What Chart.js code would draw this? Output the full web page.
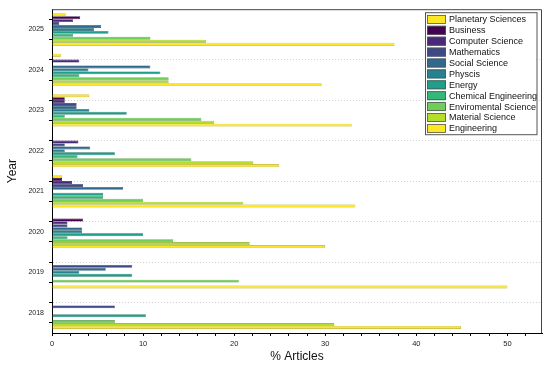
<!DOCTYPE html>
<html><head><meta charset="utf-8">
<script src="https://cdn.jsdelivr.net/npm/chart.js@4.4.0/dist/chart.umd.min.js"></script>
<style>html,body{margin:0;padding:0;background:#fff}#wrap{width:550px;height:369px;position:relative}</style>
</head><body><div id="wrap"><canvas id="c"></canvas></div>
<script>
// ---- data ----
const years = [2025, 2024, 2023, 2022, 2021, 2020, 2019, 2018];
const seriesNames = ["Planetary Sciences","Business","Computer Science","Mathematics","Social Science","Physcis","Energy","Chemical Engineering","Enviromental Science","Material Science","Engineering"];
const planetary   = [1.5, 1.0, 4.1, 0,    1.1, 0,    0,    0];
const business    = [3.1, 0,   1.4, 0,    1.1, 3.4,  0,    0];
const compSci     = [2.3, 3.0, 1.4, 2.9,  2.2, 1.7,  0,    0];
const mathematics = [0.8, 0,   2.7, 1.4,  3.4, 1.7,  8.8,  6.9];
const socialSci   = [5.4, 10.8,2.7, 4.2,  7.8, 3.3,  5.9,  0];
const physcis     = [4.6, 4.0, 4.1, 1.4,  0,   3.3,  3.0,  0];
const energy      = [6.2, 11.9,8.2, 6.9,  5.6, 10.0, 8.8,  10.3];
const chemEng     = [2.3, 3.0, 1.4, 2.8,  5.6, 1.7,  0,    0];
const envSci      = [10.8,12.8,16.4,15.3, 10.0,13.3, 20.5, 6.9];
const materialSci = [16.9,12.8,17.8,22.1, 21.0,21.7, 0,    31.0];
const engineering = [37.6,29.6,32.9,24.9, 33.3,30.0, 50.0, 44.9];
const xTickValues = [0, 10, 20, 30, 40, 50];

// ---- styles ----
const fills   = ["#fde725","#440154","#482878","#3e4989","#31688e","#26828e","#1f9e89","#35b779","#6ece58","#b5de2b","#fde725"];
function darker(hex, f){const n=parseInt(hex.slice(1),16);const r=Math.round(((n>>16)&255)*f),g=Math.round(((n>>8)&255)*f),b=Math.round((n&255)*f);return `rgb(${r},${g},${b})`;}
const allSeries = [planetary,business,compSci,mathematics,socialSci,physcis,energy,chemEng,envSci,materialSci,engineering];
const FONT = '"Liberation Sans", Arial, sans-serif';

// year-axis ticks every 0.5 (minor ticks at group boundaries): the bar ruler
// sees half a year, so 1.6 * half-year = 0.8 of a year per group
const datasets = allSeries.map((vals,i)=>({
  label: seriesNames[i],
  data: vals,
  backgroundColor: fills[i],
  borderColor: darker(fills[i], 0.7),
  borderWidth: 0.6,
  borderSkipped: false,
  barPercentage: 1.0,
  categoryPercentage: 1.6
}));

const decor = {
  id: 'decor',
  afterDraw(chart){
    const {ctx, chartArea:a} = chart;
    ctx.save();
    ctx.strokeStyle = '#444'; ctx.lineWidth = 1;
    ctx.beginPath();
    ctx.moveTo(a.left, a.top + 0.5); ctx.lineTo(a.right - 0.5, a.top + 0.5); ctx.lineTo(a.right - 0.5, a.bottom);
    ctx.stroke();
    const L = a.right - 117, T = a.top + 3, W = 111.5, H = 122, row = 10.9;
    ctx.fillStyle = '#fff'; ctx.fillRect(L, T, W, H);
    ctx.strokeStyle = '#555'; ctx.lineWidth = 1; ctx.strokeRect(L + 0.5, T + 0.5, W, H);
    ctx.font = '9px ' + FONT; ctx.textBaseline = 'middle'; ctx.textAlign = 'left';
    chart.data.datasets.forEach((ds, i) => {
      const cy = T + 7.2 + i * row;
      ctx.fillStyle = ds.backgroundColor; ctx.fillRect(L + 2, cy - 4.5, 19, 9);
      ctx.strokeStyle = '#555'; ctx.lineWidth = 0.8; ctx.strokeRect(L + 2.5, cy - 4, 18, 8);
      ctx.fillStyle = '#111'; ctx.fillText(ds.label, L + 24, cy + 0.5);
    });
    ctx.restore();
  }
};

new Chart(document.getElementById('c'), {
  type: 'bar',
  data: { labels: years, datasets },
  options: {
    indexAxis: 'y',
    responsive: true, maintainAspectRatio: false, animation: false,
    layout: { padding: { top: 6, right: 8, left: 0, bottom: 0 } },
    plugins: { legend: { display: false }, tooltip: { enabled: false } },
    scales: {
      x: {
        type: 'linear', position: 'bottom', min: 0, max: 53.8,
        afterBuildTicks: s => { const t = []; for (let v = 0; v <= s.max; v += 2) t.push({ value: v }); s.ticks = t; },
        afterFit: s => { s.height = 36; },
        ticks: { autoSkip: false, maxRotation: 0, padding: 3, color: '#222', font: { family: FONT, size: 7.5 },
                 callback: v => xTickValues.includes(v) ? String(v) : '' },
        grid: { display: true, drawOnChartArea: false, drawTicks: true, tickLength: 3, tickColor: '#000' },
        border: { display: true, color: '#000', width: 1 },
        title: { display: true, text: '% Articles', color: '#111', font: { family: FONT, size: 12 }, padding: { top: 0, bottom: 5 } }
      },
      y: {
        type: 'linear', position: 'left', min: 2017.5, max: 2025.5, offset: false,
        afterBuildTicks: s => { const t = []; for (let v = 2017.5; v <= 2025.5; v += 0.5) t.push({ value: v }); s.ticks = t; },
        afterFit: s => { s.width = 52; },
        ticks: { autoSkip: false, padding: 5, color: '#222', font: { family: FONT, size: 7 },
                 callback: v => Number.isInteger(v) ? String(v) : '' },
        grid: {
          display: true, drawOnChartArea: true, tickLength: 3, tickColor: '#000', tickWidth: 1,
          color: c => (c.tick && Math.abs((c.tick.value % 1) - 0.5) < 1e-6 && c.tick.value > 2017.6 && c.tick.value < 2025.4) ? '#d2d2d2' : 'rgba(0,0,0,0)',
          lineWidth: 1
        },
        border: { display: true, color: '#000', width: 1, dash: [1, 2] },
        title: { display: true, text: 'Year', color: '#111', font: { family: FONT, size: 12 }, padding: { top: 5, bottom: 0 } }
      }
    }
  },
  plugins: [decor]
});
</script>
</body></html>
